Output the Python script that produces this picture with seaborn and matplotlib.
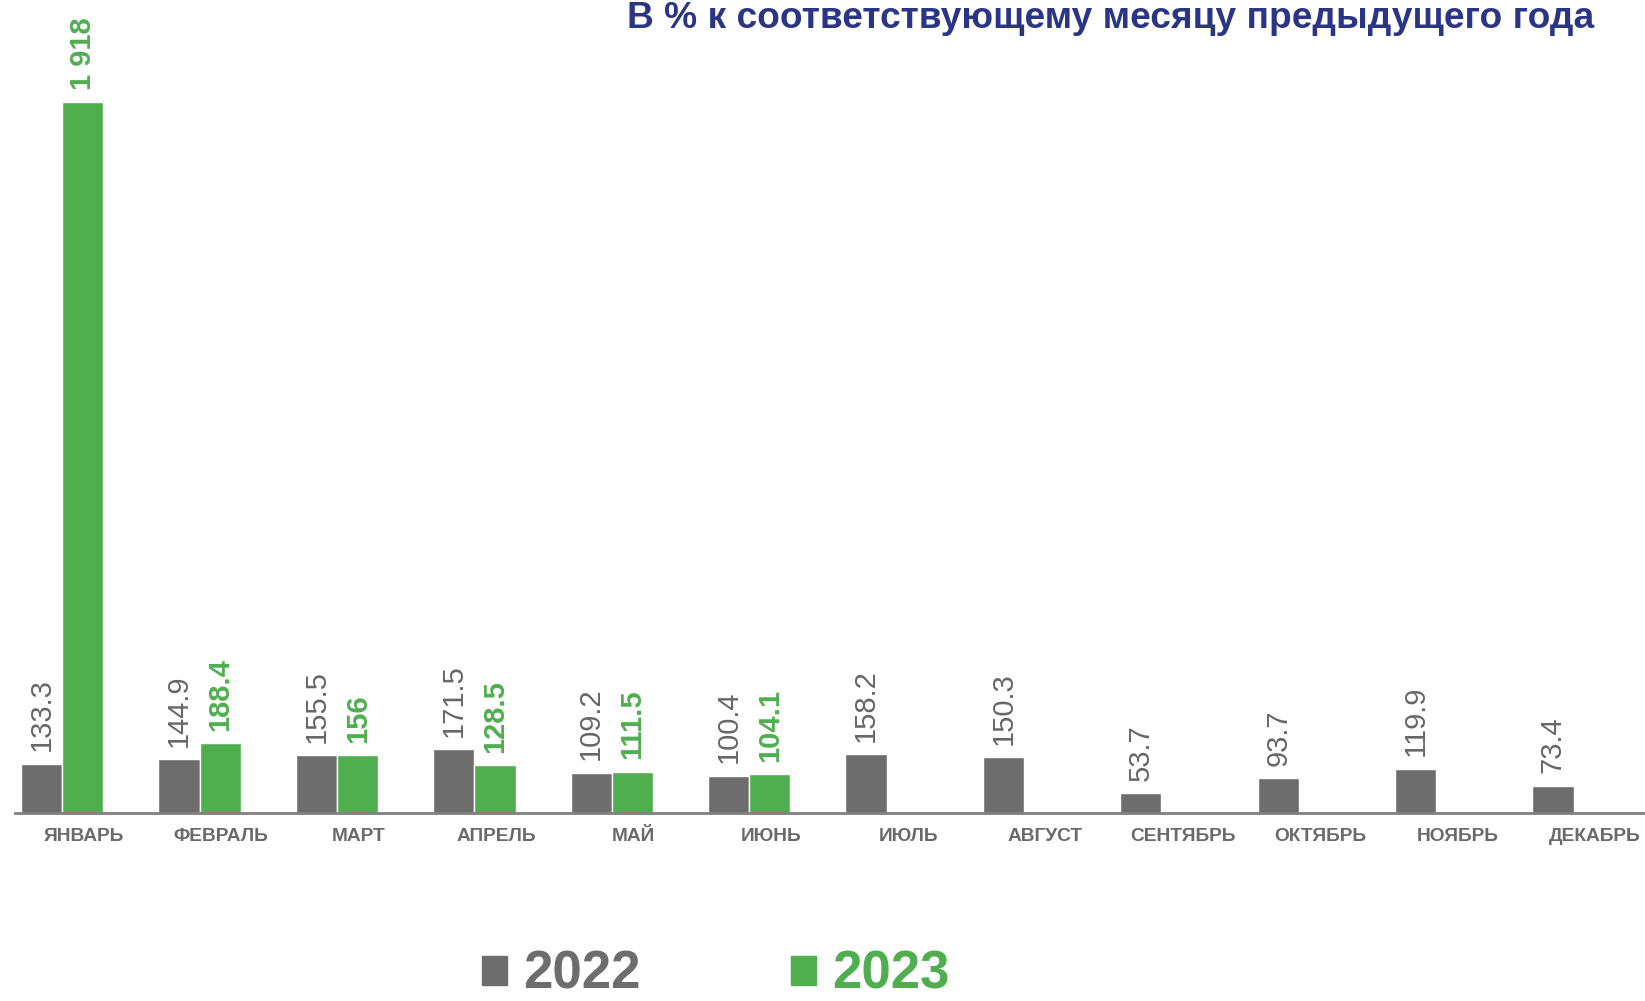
import numpy as np
import pandas as pd
import matplotlib
matplotlib.use("Agg")
import matplotlib.pyplot as plt
import seaborn as sns

# Monthly index, % to the same month of the previous year
months = ["ЯНВАРЬ", "ФЕВРАЛЬ", "МАРТ", "АПРЕЛЬ", "МАЙ", "ИЮНЬ",
          "ИЮЛЬ", "АВГУСТ", "СЕНТЯБРЬ", "ОКТЯБРЬ", "НОЯБРЬ", "ДЕКАБРЬ"]
years = ["2022", "2023"]
values_2022 = [133.3, 144.9, 155.5, 171.5, 109.2, 100.4,
               158.2, 150.3, 53.7, 93.7, 119.9, 73.4]
values_2023 = [1918, 188.4, 156, 128.5, 111.5, 104.1,
               np.nan, np.nan, np.nan, np.nan, np.nan, np.nan]

gray = "#6d6d6d"
green = "#4faf4f"
title_color = "#2b3586"

df = pd.DataFrame({
    "month": months * 2,
    "year": [years[0]] * 12 + [years[1]] * 12,
    "value": values_2022 + values_2023,
})

sns.set_style("white")
plt.rcParams["font.family"] = ["Liberation Sans", "DejaVu Sans"]

fig = plt.figure(figsize=(16.45, 10.01), dpi=100)
ax = fig.add_axes([0.0091, 0.1878, 0.9909, 0.7403])

sns.barplot(data=df, x="month", y="value", hue="year", order=months,
            hue_order=years, palette=[gray, green], width=0.6,
            saturation=1, ax=ax)


def fmt(v):
    v = round(v, 1)
    if float(v).is_integer():
        return f"{v:,.0f}".replace(",", " ")
    return f"{v:.1f}"


label_colors = ["#666666", green]
label_weights = ["normal", "bold"]
for cont, col, w in zip(ax.containers, label_colors, label_weights):
    for bar in cont:
        if bar is None or np.isnan(bar.get_height()):
            continue
        ax.annotate(fmt(bar.get_height()),
                    (bar.get_x() + bar.get_width() / 2, bar.get_height()),
                    xytext=(0, 9), textcoords="offset points",
                    rotation=90, ha="center", va="bottom",
                    fontsize=21, color=col, fontweight=w)

ax.set_ylim(0, 2000)
ax.set_xlim(-0.344, 11.52)
ax.set_xticks(np.arange(12) + 0.156)
ax.set_xticklabels(months, fontsize=13.8, fontweight="bold", color="#6a6a6a")
ax.tick_params(axis="x", length=0, pad=11)
ax.set_yticks([])
ax.set_xlabel("")
ax.set_ylabel("")
for s in ["top", "left", "right"]:
    ax.spines[s].set_visible(False)
ax.spines["bottom"].set_color("#808080")
ax.spines["bottom"].set_linewidth(2)

if ax.legend_ is not None:
    ax.legend_.remove()
handles = [plt.Rectangle((0, 0), 1, 1, color=gray),
           plt.Rectangle((0, 0), 1, 1, color=green)]
fig.legend(handles, years, loc="center", bbox_to_anchor=(0.435, 0.026),
           ncol=2, frameon=False, handlelength=0.48, handleheight=0.48,
           handletextpad=0.3, columnspacing=2.85, borderpad=0,
           labelcolor=[gray, green],
           prop={"size": 38, "weight": "bold"})

fig.text(0.969, 0.972, "В % к соответствующему месяцу предыдущего года",
         ha="right", va="baseline", fontsize=26.7, fontweight="bold",
         color=title_color)

fig.savefig("out.png", dpi=100)
